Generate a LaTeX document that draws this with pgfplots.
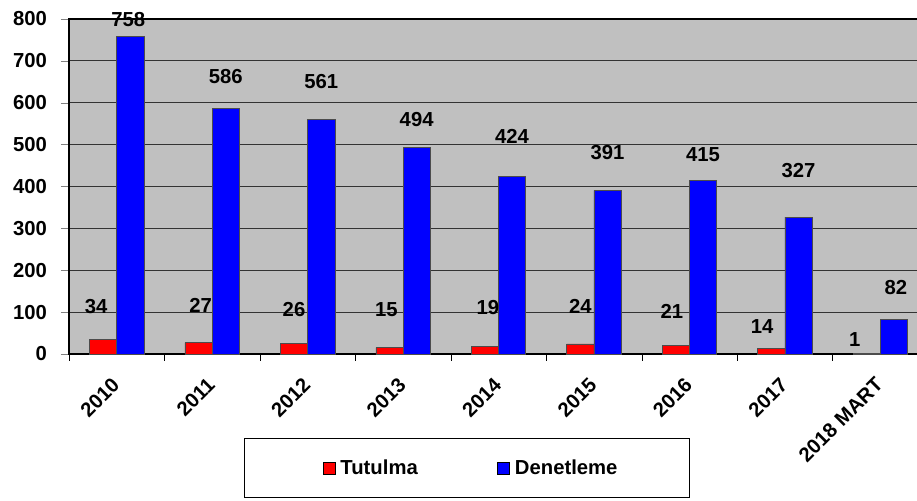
\documentclass[border=0pt]{standalone}
\usepackage{fontspec}
\setmainfont{Liberation Sans}
\usepackage{pgfplots}
\pgfplotsset{compat=1.18}
\usepackage{pgfplotstable}

\definecolor{plotgray}{RGB}{192,192,192}
\definecolor{redbar}{RGB}{255,0,0}
\definecolor{bluebar}{RGB}{0,0,255}

% off = label centre above bar top, dx = label shift sideways, both in px
\pgfplotstableread{
x y off dx
0 34 33 -7
1 27 37 2
2 26 34 0
3 15 38 -3
4 19 39 3
5 24 38 0
6 21 34 -4
7 14 22 -9
8 1 14 -12
}\tutulma
\pgfplotstableread{
x y off dx
0 758 17 -2
1 586 32 0
2 561 38 0
3 494 28 0
4 424 40 0
5 391 38 0
6 415 26 0
7 327 47 0
8 82 32 2
}\denetleme

\newcommand\lblfont{\fontsize{15.2pt}{17pt}\selectfont\bfseries}

\begin{document}
\begin{tikzpicture}
\begin{axis}[
  at={(51.75pt,109.5pt)}, anchor=south west,
  scale only axis, width=644.25pt, height=251.25pt,
  ybar=0pt, bar width=0.285,
  xmin=-0.5, xmax=8.5, ymin=0, ymax=800,
  xtick={0,...,8},
  xticklabels={2010,2011,2012,2013,2014,2015,2016,2017,2018 MART},
  minor xtick={-0.5,0.5,...,8.5},
  xtick pos=bottom, ytick pos=left,
  major x tick style={draw=none},
  minor x tick style={black},
  minor tick length=5pt, major tick length=6pt,
  tick align=outside,
  ytick={0,100,...,800},
  ymajorgrids, major grid style={black!80, line width=0.8pt},
  axis line style={black, line width=0.8pt},
  axis background/.style={fill=plotgray},
  font=\lblfont,
  /pgf/number format/assume math mode=true,
  yticklabel style={font=\lblfont, xshift=-7pt},
  xticklabel style={font=\lblfont, rotate=45, anchor=east, inner sep=0pt, xshift=-10.5pt, yshift=-9.7pt},
  clip=false,
  nodes near coords,
  visualization depends on={0.75*\thisrow{off} \as \off},
  visualization depends on={0.75*\thisrow{dx} \as \dx},
  every node near coord/.append style={font=\lblfont, anchor=center, yshift=\off pt, xshift=\dx pt, black},
  legend columns=2,
  legend style={at={(0.463,-0.340)}, anchor=center, draw=black, fill=white,
    inner xsep=49.5pt, inner ysep=14pt,
    font=\lblfont,
    nodes={inner xsep=4pt},
    /tikz/every even column/.append style={column sep=46.5pt}},
  legend image code/.code={\path (0pt,0pt); \draw[#1, draw=black] (9pt,-4.5pt) rectangle (18pt,4.5pt);},
]
\addplot[fill=redbar, draw=black!70] table[x=x, y=y] {\tutulma};
\addlegendentry{Tutulma}
\addplot[fill=bluebar, draw=black!70] table[x=x, y=y] {\denetleme};
\addlegendentry{Denetleme}
\end{axis}
\pgfresetboundingbox
\useasboundingbox (0,0) rectangle (687.75pt,375pt);
\end{tikzpicture}
\end{document}
